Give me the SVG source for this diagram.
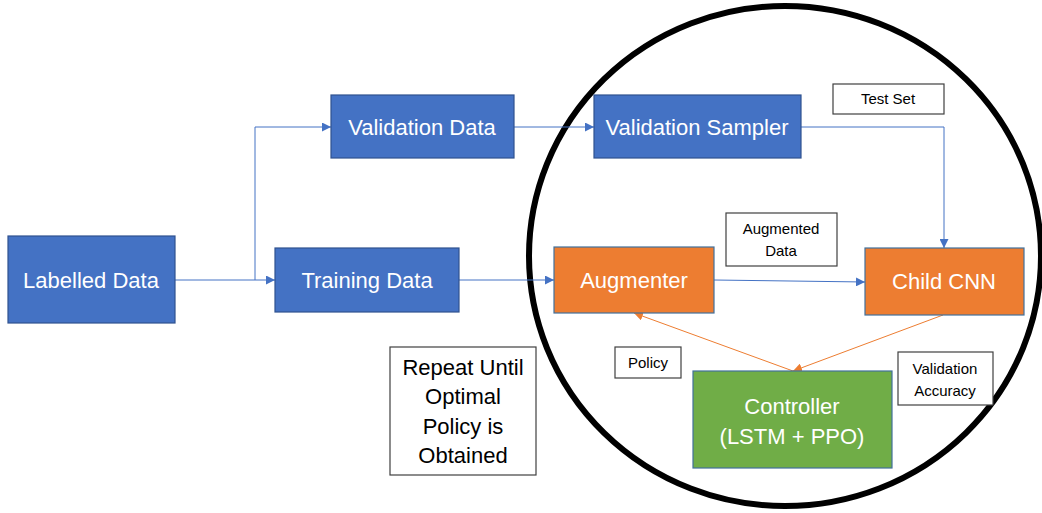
<svg xmlns="http://www.w3.org/2000/svg" width="1042" height="513" viewBox="0 0 1042 513">
<style>
.blue{fill:#4472C4;stroke:#2F528F;stroke-width:1.2}
.orange{fill:#ED7D31;stroke:#41719C;stroke-width:1.2}
.green{fill:#70AD47;stroke:#41719C;stroke-width:1.2}
.lbl{fill:#fff;stroke:#404040;stroke-width:1.2}
.t{font-family:"Liberation Sans",Arial,sans-serif;font-size:22px;fill:#fff;text-anchor:middle}
.s{font-family:"Liberation Sans",Arial,sans-serif;font-size:15px;fill:#000;text-anchor:middle}
.r{font-family:"Liberation Sans",Arial,sans-serif;font-size:22px;fill:#000;text-anchor:middle}
.cb{fill:none;stroke:#4472C4;stroke-width:1;marker-end:url(#ab)}
.co{fill:none;stroke:#ED7D31;stroke-width:1;marker-end:url(#ao)}
</style>
<defs>
<marker id="ab" viewBox="0 0 10 10" refX="10" refY="5" markerWidth="9" markerHeight="9" markerUnits="userSpaceOnUse" orient="auto"><path d="M0,0 L10,5 L0,10 z" fill="#4472C4"/></marker>
<marker id="ao" viewBox="0 0 10 10" refX="10" refY="5" markerWidth="9" markerHeight="9" markerUnits="userSpaceOnUse" orient="auto"><path d="M0,0 L10,5 L0,10 z" fill="#ED7D31"/></marker>
</defs>
<rect width="1042" height="513" fill="#fff"/>
<ellipse id="loop" cx="785" cy="256" rx="256" ry="250" fill="none" stroke="#000" stroke-width="6"/>
<g id="connectors">
<path class="cb" d="M175,280 L275,280"/>
<path class="cb" d="M255,280 L255,127 L331,127"/>
<path class="cb" d="M514,127 L594,127"/>
<path class="cb" d="M801,127 L944,127 L944,248"/>
<path class="cb" d="M459,280 L554,280"/>
<path class="cb" d="M714,280 L865,282"/>
<path class="co" d="M943,315 L793,371"/>
<path class="co" d="M793,371 L634,313"/>
</g>
<g id="labelled-data"><rect class="blue" x="8" y="236" width="167" height="87"/><text class="t" x="91" y="288">Labelled Data</text></g>
<g id="validation-data"><rect class="blue" x="331" y="95" width="183" height="63"/><text class="t" x="422" y="135">Validation Data</text></g>
<g id="training-data"><rect class="blue" x="275" y="248" width="184" height="64"/><text class="t" x="367" y="288">Training Data</text></g>
<g id="validation-sampler"><rect class="blue" x="594" y="95" width="207" height="63"/><text class="t" x="697" y="135">Validation Sampler</text></g>
<g id="augmenter"><rect class="orange" x="554" y="247" width="160" height="66"/><text class="t" x="634" y="288">Augmenter</text></g>
<g id="child-cnn"><rect class="orange" x="865" y="248" width="159" height="67"/><text class="t" x="944" y="289">Child CNN</text></g>
<g id="controller"><rect class="green" x="693" y="371" width="199" height="97"/><text class="t" x="792" y="414">Controller</text><text class="t" x="792" y="444">(LSTM + PPO)</text></g>
<g id="test-set"><rect class="lbl" x="833" y="84" width="111" height="30"/><text class="s" x="888" y="104">Test Set</text></g>
<g id="augmented-data"><rect class="lbl" x="726" y="213" width="111" height="53"/><text class="s" x="781" y="234">Augmented</text><text class="s" x="781" y="256">Data</text></g>
<g id="policy"><rect class="lbl" x="615" y="347" width="66" height="31"/><text class="s" x="648" y="368">Policy</text></g>
<g id="validation-accuracy"><rect class="lbl" x="898" y="352" width="95" height="53"/><text class="s" x="945" y="374">Validation</text><text class="s" x="945" y="396">Accuracy</text></g>
<g id="repeat-note"><rect class="lbl" x="390" y="347" width="146" height="128"/><text class="r" x="463" y="375">Repeat Until</text><text class="r" x="463" y="404">Optimal</text><text class="r" x="463" y="434">Policy is</text><text class="r" x="463" y="463">Obtained</text></g>
</svg>
